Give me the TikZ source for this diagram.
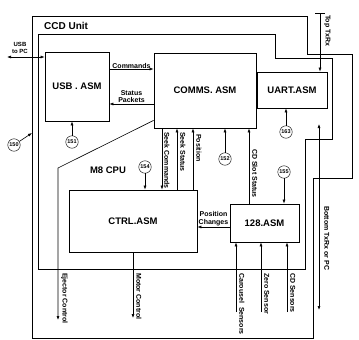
\documentclass[tikz,border=0pt]{standalone}
\usepackage{fontspec}
\setmainfont{Liberation Sans}
\usetikzlibrary{arrows.meta,calc}

\begin{document}
\begin{tikzpicture}[
    x=1pt, y=-1pt,
    unit/.style={draw, semithick, line join=miter},
    asm/.style={draw, thick, fill=white, inner sep=0pt,
                font=\bfseries\fontsize{9.5}{10}\selectfont},
    tag/.style={draw, circle, minimum size=12.5pt, inner sep=0pt, fill=white,
                font=\bfseries\fontsize{5.5}{5.5}\selectfont},
    lbl/.style={font=\bfseries\fontsize{7}{7.5}\selectfont, align=center, inner sep=1pt},
    vlbl/.style={lbl, rotate=-90, anchor=south west},
    arr/.style={-{Latex[length=4pt,width=3pt]}, semithick},
    darr/.style={{Latex[length=4pt,width=3pt]}-{Latex[length=4pt,width=3pt]}, semithick},
  ]
  \useasboundingbox (0,0) rectangle (359,340);

  % CCD unit outline and inner outline
  \draw[unit] (32,16) -- (307,16) -- (307,54) -- (352,54) -- (352,178)
              -- (313,178) -- (313,338) -- (32,338) -- cycle;
  \draw[unit] (38,34) -- (275,34) -- (275,58) -- (332,58) -- (332,139)
              -- (305,139) -- (305,269) -- (38,269) -- cycle;
  \node[lbl, anchor=west, font=\bfseries\fontsize{10}{10}\selectfont] (ccd) at (43,26) {CCD Unit};
  \node[lbl, font=\bfseries\fontsize{9.5}{10}\selectfont] (cpu) at (108,170) {M8 CPU};

  % software modules
  \node[asm, minimum width=64pt,  minimum height=69pt] (usb)   at (77,86.5)   {USB . ASM};
  \node[asm, minimum width=102pt, minimum height=75pt] (comms) at (205,90.5)  {COMMS. ASM};
  \node[asm, minimum width=70pt,  minimum height=36pt] (uart)  at (292,90)    {UART.ASM};
  \node[asm, minimum width=128pt, minimum height=62pt] (ctrl)  at (133,221)   {CTRL.ASM};
  \node[asm, minimum width=69pt,  minimum height=38pt] (asmb)  at (264.5,223) {128.ASM};

  % reference numerals
  \node[tag] (t150) at (14,145)  {150};
  \node[tag] (t151) at (72,142)  {151};
  \node[tag] (t152) at (225,159) {152};
  \node[tag] (t154) at (145,167) {154};
  \node[tag] (t155) at (284,172) {155};
  \node[tag] (t163) at (286,132) {163};
  \coordinate (unitedge) at (32,133);
  \draw[arr] (t150) -- (unitedge);
  \draw[arr] (t151) -- (usb.south -| t151);
  \draw[arr] (t152) -- (comms.south -| t152);
  \draw[arr] (t154) -- (ctrl.north -| t154);
  \draw[arr] (t155) -- (asmb.north -| t155);
  \draw[arr] (t163) -- (uart.south -| t163);

  % USB side
  \coordinate (pc) at (7,57);
  \draw[darr] (pc) -- (usb.west |- pc);
  \node[lbl, font=\bfseries\fontsize{6}{6.5}\selectfont] (pclbl) at (20,48) {USB\\to PC};
  \coordinate (cmdy) at (0,69);
  \coordinate (staty) at (0,104);
  \draw[arr] (usb.east |- cmdy) -- node[lbl, above=-1pt] {Commands} (comms.west |- cmdy);
  \draw[arr] (comms.west |- staty) -- node[lbl, above] {Status\\Packets} (usb.east |- staty);

  % between COMMS and CTRL
  \coordinate (sk) at (162,0);
  \coordinate (ss) at (177,0);
  \coordinate (po) at (193,0);
  \coordinate (cd) at (249,0);
  \draw[arr] (comms.south -| sk) -- (ctrl.north -| sk);
  \draw[arr] (ctrl.north -| ss) -- (comms.south -| ss);
  \draw[arr] (ctrl.north -| po) -- (comms.south -| po);
  \draw[arr] (asmb.north -| cd) -- (comms.south -| cd);
  \node[vlbl] at (163,131) {Seek Commands};
  \node[vlbl] at (179,131) {Seek Status};
  \node[vlbl] at (195,133) {Position};
  \node[vlbl] at (251,148) {CD Slot Status};

  % 128 to CTRL
  \coordinate (pcy) at (0,227);
  \draw[arr] (asmb.west |- pcy) -- node[lbl, above] {Position\\Changes} (ctrl.east |- pcy);

  % outputs
  \coordinate (ejstart) at ($(comms.south west)+(0,-8)$);
  \coordinate (ejbend) at (58,168);
  \coordinate (ejout) at (58,320);
  \draw[arr] (ejstart) -- (ejbend) -- (ejout);
  \node[vlbl] at (60,272) {Ejector Control};
  \coordinate (motout) at (133,318);
  \draw[arr] (ctrl.south) -- (motout);
  \node[vlbl] at (135,272) {Motor Control};

  % sensor inputs
  \coordinate (carin) at (236,312);
  \coordinate (zeroin) at (261,312);
  \coordinate (cdin) at (287,312);
  \draw[arr] (carin) -- (asmb.south -| carin);
  \draw[arr] (zeroin) -- (asmb.south -| zeroin);
  \draw[arr] (cdin) -- (asmb.south -| cdin);
  \node[vlbl] at (238,272) {Carousel\ \ Sensors};
  \node[vlbl] at (263,272) {Zero Sensor};
  \node[vlbl] at (289,272) {CD Sensors};

  % serial links
  \coordinate (toptx) at (320,13);
  \draw[{Bar[width=10pt]}-{Latex[length=4pt,width=3pt]}, semithick] (toptx) -- (uart.north -| toptx);
  \node[vlbl] at (323,14) {Top TxRx};
  \coordinate (botup) at (319,124);
  \coordinate (botdn) at (319,310);
  \draw[darr] (botdn) -- (botup);
  \node[vlbl] at (323,205) {Bottom TxRx or PC};
\end{tikzpicture}
\end{document}
